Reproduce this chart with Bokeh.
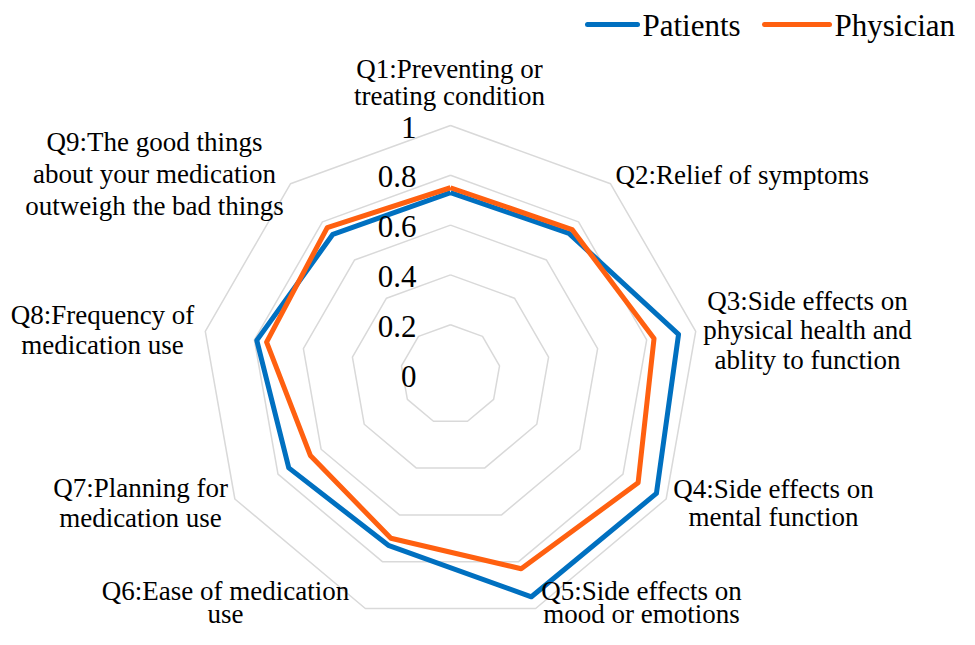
import numpy as np
from bokeh.plotting import figure
from bokeh.models import Range1d
from bokeh.core.properties import value
from bokeh.embed import file_html
from bokeh.resources import INLINE

# ---------------- data ----------------
categories = [
    "Q1:Preventing or\ntreating condition",
    "Q2:Relief of symptoms",
    "Q3:Side effects on\nphysical health and\nablity to function",
    "Q4:Side effects on\nmental function",
    "Q5:Side effects on\nmood or emotions",
    "Q6:Ease of medication\nuse",
    "Q7:Planning for\nmedication use",
    "Q8:Frequency of\nmedication use",
    "Q9:The good things\nabout your medication\noutweigh the bad things",
]
patients = [0.73, 0.74, 0.93, 0.955, 0.95, 0.73, 0.75, 0.79, 0.735]
physician = [0.75, 0.76, 0.83, 0.87, 0.83, 0.70, 0.65, 0.75, 0.77]
tick_values = [0, 0.2, 0.4, 0.6, 0.8, 1.0]
tick_labels = ["0", "0.2", "0.4", "0.6", "0.8", "1"]
series_names = ["Patients", "Physician"]
series_colors = ["#0070C0", "#FF6010"]

# ---------------- layout ----------------
W, H = 959, 629
CX, CY = 450, 374      # centre of radar in figure pixels
R = 249                # pixels for value 1.0
FONT = value("Liberation Serif")


def px(x, y):
    """figure pixel -> data coordinates"""
    return (x - CX) / R, (CY - y) / R


p = figure(width=W, height=H, output_backend="svg", toolbar_location=None,
           x_range=Range1d(-CX / R, (W - CX) / R),
           y_range=Range1d((CY - H) / R, CY / R),
           x_axis_type=None, y_axis_type=None, min_border=0)
p.outline_line_color = None
p.background_fill_color = "white"

n = len(categories)
theta = np.pi / 2 - np.arange(n) * 2 * np.pi / n


def ring(vals):
    vals = np.asarray(vals, dtype=float)
    xs = vals * np.cos(theta)
    ys = vals * np.sin(theta)
    return list(np.append(xs, xs[0])), list(np.append(ys, ys[0]))


# grid polygons
for v in tick_values[1:]:
    gx, gy = ring([v] * n)
    p.line(gx, gy, line_color="#d9d9d9", line_width=1.5)

# series
for vals, col in zip([patients, physician], series_colors):
    sx, sy = ring(vals)
    p.line(sx, sy, line_color=col, line_width=5, line_join="round")

# radial tick labels
p.text(x=[-34 / R] * len(tick_values),
       y=[v - 1.5 / R for v in tick_values],
       text=tick_labels, text_font=FONT, text_font_size="31px",
       text_align="right", text_baseline="middle", text_color="black")

# category labels: (x, first line centre y, align, line spacing) in figure pixels
anchors = [
    (449, 68, "center", 27),
    (615, 174, "left", 29),
    (807, 300, "center", 29.5),
    (773, 488, "center", 28),
    (641, 590, "center", 23.5),
    (225, 590, "center", 23.5),
    (140, 487, "center", 30.5),
    (102, 314, "center", 30),
    (154, 141, "center", 32),
]
for label, (ax, ay, al, sp) in zip(categories, anchors):
    lines = label.split("\n")
    xs, ys = [], []
    for i, _ in enumerate(lines):
        dx, dy = px(ax, ay + i * sp)
        xs.append(dx)
        ys.append(dy)
    p.text(x=xs, y=ys, text=lines, text_font=FONT, text_font_size="27px",
           text_align=al, text_baseline="middle", text_color="black")

# legend (top right)
leg = [(587, 637, 642), (764, 829, 834)]
for (x0, x1, tx), name, col in zip(leg, series_names, series_colors):
    a = px(x0, 24)
    b = px(x1, 24)
    p.line([a[0], b[0]], [a[1], b[1]], line_color=col, line_width=5, line_cap="round")
    t = px(tx, 25)
    p.text(x=[t[0]], y=[t[1]], text=[name], text_font=FONT, text_font_size="31px",
           text_align="left", text_baseline="middle", text_color="black")

open("out.html", "w").write(file_html(p, INLINE))
